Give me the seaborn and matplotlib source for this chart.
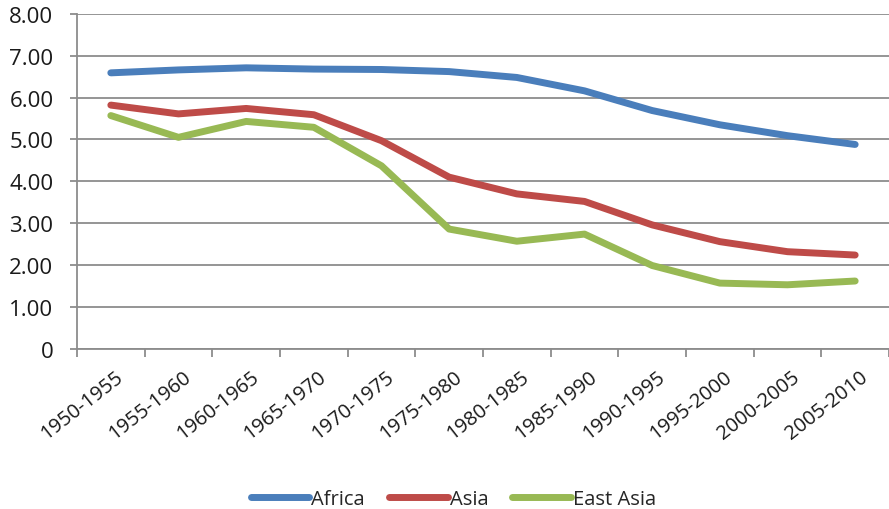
import matplotlib
matplotlib.use("Agg")
import matplotlib.pyplot as plt
import matplotlib.transforms as mtransforms
import seaborn as sns
import pandas as pd
import numpy as np
from matplotlib.ticker import FixedLocator, FuncFormatter

periods = ["1950-1955", "1955-1960", "1960-1965", "1965-1970", "1970-1975", "1975-1980",
           "1980-1985", "1985-1990", "1990-1995", "1995-2000", "2000-2005", "2005-2010"]
africa = [6.59, 6.66, 6.71, 6.68, 6.67, 6.62, 6.48, 6.16, 5.69, 5.35, 5.09, 4.88]
asia = [5.82, 5.61, 5.74, 5.59, 4.97, 4.10, 3.70, 3.52, 2.96, 2.56, 2.32, 2.24]
east_asia = [5.57, 5.05, 5.43, 5.29, 4.37, 2.86, 2.57, 2.74, 1.99, 1.57, 1.53, 1.62]
series_names = ["Africa", "Asia", "East Asia"]
colors = ["#4A7EBB", "#BE4B48", "#98B954"]

df = pd.DataFrame({
    "period": periods * 3,
    "x": list(range(len(periods))) * 3,
    "value": africa + asia + east_asia,
    "series": [s for s in series_names for _ in periods],
})

sns.set_style("white")
plt.rcParams['font.family'] = ['Open Sans', 'DejaVu Sans']

fig = plt.figure(figsize=(8.89, 5.10), dpi=100)
ax = fig.add_axes([0.0866, 0.314, 0.9134, 0.657])

sns.lineplot(data=df, x="x", y="value", hue="series", hue_order=series_names,
             palette=colors, linewidth=5, ax=ax, legend=True,
             solid_capstyle="round", solid_joinstyle="round")

ax.set_xlim(-0.5, len(periods) - 0.5)
ax.set_ylim(0, 8)
ax.set_yticks(np.arange(0, 9, 1))
ax.yaxis.set_major_formatter(FuncFormatter(lambda v, p: "0" if v == 0 else f"{v:.2f}"))
ax.grid(axis="y", color="#8c8c8c", linewidth=1.3)
ax.set_axisbelow(True)

ax.set_xticks(range(len(periods)))
ax.set_xticklabels(periods, rotation=38, ha="right", rotation_mode="anchor")
ax.xaxis.set_minor_locator(FixedLocator(np.arange(-0.5, len(periods), 1.0)))
ax.tick_params(axis="x", which="major", length=0, labelsize=14.5, pad=13, colors="#1a1a1a")
ax.tick_params(axis="x", which="minor", length=6, width=1.3, color="#8c8c8c", bottom=True)
ax.tick_params(axis="y", which="major", length=5, width=1.3, color="#8c8c8c", left=True,
               labelsize=16, labelcolor="#1a1a1a", pad=12)

offset = mtransforms.ScaledTranslation(4 / 100, 0, fig.dpi_scale_trans)
for lbl in ax.get_xticklabels():
    lbl.set_transform(lbl.get_transform() + offset)

for s in ["top", "right"]:
    ax.spines[s].set_visible(False)
for s in ["left", "bottom"]:
    ax.spines[s].set_color("#8c8c8c")
    ax.spines[s].set_linewidth(1.3)

ax.set_xlabel("")
ax.set_ylabel("")

handles, labels = ax.get_legend_handles_labels()
ax.legend(handles, labels, loc="center", bbox_to_anchor=(0.51, 0.02),
          bbox_transform=fig.transFigure, frameon=False,
          ncol=3, fontsize=14.5, handlelength=2.9, handletextpad=0.1, columnspacing=1.2)

fig.savefig("out.png", dpi=100, facecolor="white")
